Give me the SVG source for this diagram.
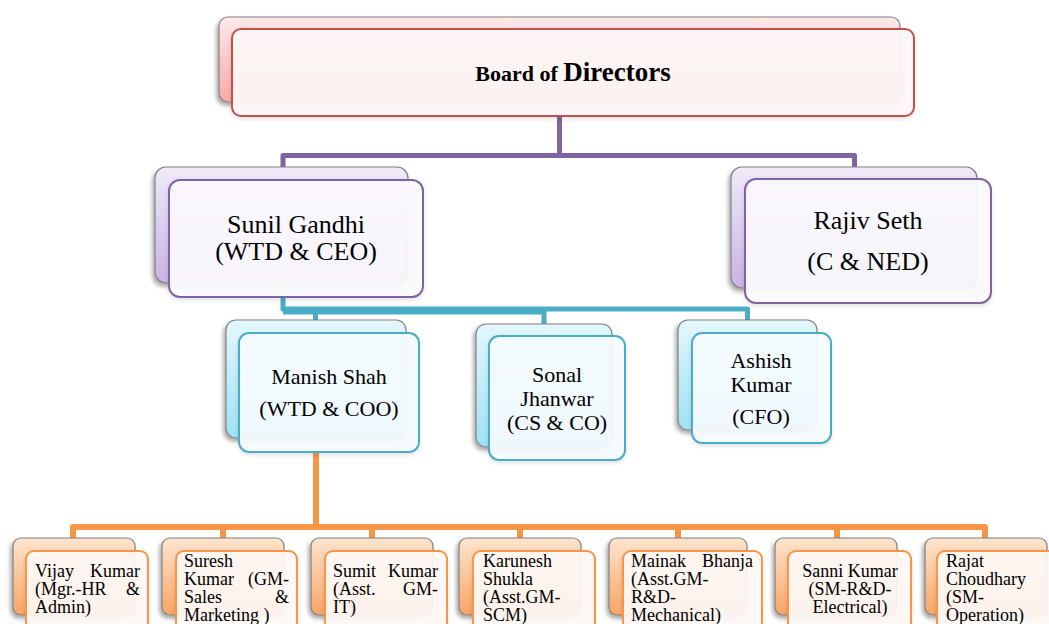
<svg xmlns="http://www.w3.org/2000/svg" width="1049" height="624" viewBox="0 0 1049 624">
<defs>
<linearGradient id="gRed" x1="0" y1="0" x2="0" y2="1"><stop offset="0" stop-color="#fde9e9"/><stop offset="1" stop-color="#f8a9a9"/></linearGradient>
<linearGradient id="gPur" x1="0" y1="0" x2="0" y2="1"><stop offset="0" stop-color="#f0eaf8"/><stop offset="1" stop-color="#c8b3e2"/></linearGradient>
<linearGradient id="gTeal" x1="0" y1="0" x2="0" y2="1"><stop offset="0" stop-color="#e4f7fd"/><stop offset="1" stop-color="#9ee2f5"/></linearGradient>
<linearGradient id="gOr" x1="0" y1="0" x2="0" y2="1"><stop offset="0" stop-color="#fde4cf"/><stop offset="1" stop-color="#f9a564"/></linearGradient>
<filter id="sh" x="-10%" y="-10%" width="120%" height="130%"><feDropShadow dx="-2" dy="3" stdDeviation="2" flood-color="#000" flood-opacity="0.35"/></filter>
<filter id="sh2" x="-10%" y="-10%" width="120%" height="130%"><feDropShadow dx="0" dy="2" stdDeviation="2" flood-color="#000" flood-opacity="0.12"/></filter>
</defs>
<style>
.back{stroke:#808080;stroke-width:1.2;filter:url(#sh)}
.front{stroke-width:2;filter:url(#sh2)}
.red .back{fill:url(#gRed)}
.red .front{fill:#fdf6f6;fill-opacity:0.95;stroke:#c0504d}
.pur .back{fill:url(#gPur)}
.pur .front{fill:#fbfafd;fill-opacity:0.93;stroke:#8064a2}
.teal .back{fill:url(#gTeal)}
.teal .front{fill:#f5fcfe;fill-opacity:0.93;stroke:#4bacc6}
.or .back{fill:url(#gOr)}
.or .front{fill:#fef9f5;fill-opacity:0.93;stroke:#f79646}
text{font-family:"Liberation Serif","Times New Roman",serif;fill:#000}
.t26{font-size:26px;text-anchor:middle}
.t22{font-size:22px;text-anchor:middle}
.t18{font-size:18px}
.c{text-anchor:middle}
.e{text-anchor:end}
.con{fill:none;stroke-linejoin:round;stroke-linecap:butt}
</style>
<g id="connectors">
<path class="con" d="M283,180 V155.5 H854.5 V180 M559.5,116 V155.5" stroke="#8064a2" stroke-width="5"/>
<path class="con" d="M283,297 V309 H747.5 V320 M315.5,309 V320 M544,309 V324" stroke="#4bacc6" stroke-width="5"/>
<path class="con" d="M283,312 H544" stroke="#4bacc6" stroke-width="5"/>
<path class="con" d="M316,452 V527 M73,540 V527 H985 V540 M223,527 V538 M372,527 V538 M520,527 V538 M678,527 V538 M837,527 V538" stroke="#f79646" stroke-width="6"/>
</g>
<g id="board" class="red">
<rect class="back" x="219" y="17" width="681" height="85" rx="9"/>
<rect class="front" x="232" y="29" width="682" height="87" rx="9"/>
<text x="573" y="81" class="c" font-weight="bold"><tspan font-size="22">Board of </tspan><tspan font-size="27">Directors</tspan></text>
</g>
<g id="sunil" class="pur">
<rect class="back" x="155" y="167" width="253" height="116" rx="11"/>
<rect class="front" x="169" y="180" width="254" height="117" rx="11"/>
<text class="t26" x="296" y="233">Sunil Gandhi</text>
<text class="t26" x="296" y="260">(WTD &amp; CEO)</text>
</g>
<g id="rajiv" class="pur">
<rect class="back" x="731" y="167" width="246" height="121" rx="11"/>
<rect class="front" x="745" y="179" width="246" height="124" rx="11"/>
<text class="t26" x="868" y="229">Rajiv Seth</text>
<text class="t26" x="868" y="270">(C &amp; NED)</text>
</g>
<g id="manish" class="teal">
<rect class="back" x="226" y="320" width="180" height="118" rx="10"/>
<rect class="front" x="239" y="333" width="180" height="119" rx="10"/>
<text class="t22" x="329" y="384">Manish Shah</text>
<text class="t22" x="329" y="416">(WTD &amp; COO)</text>
</g>
<g id="sonal" class="teal">
<rect class="back" x="476" y="324" width="136" height="123" rx="10"/>
<rect class="front" x="489" y="336" width="136" height="124" rx="10"/>
<text class="t22" x="557" y="382">Sonal</text>
<text class="t22" x="557" y="406">Jhanwar</text>
<text class="t22" x="557" y="430">(CS &amp; CO)</text>
</g>
<g id="ashish" class="teal">
<rect class="back" x="678" y="320" width="139" height="110" rx="10"/>
<rect class="front" x="692" y="333" width="139" height="110" rx="10"/>
<text class="t22" x="761" y="368">Ashish</text>
<text class="t22" x="761" y="392">Kumar</text>
<text class="t22" x="761" y="424">(CFO)</text>
</g>
<g id="vijay" class="or">
<rect class="back" x="13" y="538" width="122" height="77" rx="8"/>
<rect class="front" x="26" y="551" width="122" height="80" rx="8"/>
<text class="t18" x="35" y="577">Vijay</text><text class="t18 e" x="140" y="577">Kumar</text>
<text class="t18" x="35" y="595">(Mgr.-HR</text><text class="t18 e" x="140" y="595">&amp;</text>
<text class="t18" x="35" y="613">Admin)</text>
</g>
<g id="suresh" class="or">
<rect class="back" x="162" y="538" width="122" height="77" rx="8"/>
<rect class="front" x="176" y="551" width="121" height="80" rx="8"/>
<text class="t18" x="184" y="567">Suresh</text>
<text class="t18" x="184" y="585">Kumar</text><text class="t18 e" x="289" y="585">(GM-</text>
<text class="t18" x="184" y="603">Sales</text><text class="t18 e" x="289" y="603">&amp;</text>
<text class="t18" x="184" y="621">Marketing )</text>
</g>
<g id="sumit" class="or">
<rect class="back" x="311" y="538" width="122" height="77" rx="8"/>
<rect class="front" x="325" y="551" width="122" height="80" rx="8"/>
<text class="t18" x="333" y="577">Sumit</text><text class="t18 e" x="438" y="577">Kumar</text>
<text class="t18" x="333" y="595">(Asst.</text><text class="t18 e" x="438" y="595">GM-</text>
<text class="t18" x="333" y="613">IT)</text>
</g>
<g id="karunesh" class="or">
<rect class="back" x="459" y="538" width="122" height="77" rx="8"/>
<rect class="front" x="473" y="551" width="122" height="80" rx="8"/>
<text class="t18" x="483" y="567">Karunesh</text>
<text class="t18" x="483" y="585">Shukla</text>
<text class="t18" x="483" y="603">(Asst.GM-</text>
<text class="t18" x="483" y="621">SCM)</text>
</g>
<g id="mainak" class="or">
<rect class="back" x="609" y="538" width="138" height="77" rx="8"/>
<rect class="front" x="623" y="551" width="139" height="80" rx="8"/>
<text class="t18" x="631" y="567">Mainak</text><text class="t18 e" x="753" y="567">Bhanja</text>
<text class="t18" x="631" y="585">(Asst.GM-</text>
<text class="t18" x="631" y="603">R&amp;D-</text>
<text class="t18" x="631" y="621">Mechanical)</text>
</g>
<g id="sanni" class="or">
<rect class="back" x="775" y="538" width="122" height="77" rx="8"/>
<rect class="front" x="788" y="551" width="123" height="80" rx="8"/>
<text class="t18 c" x="850" y="577">Sanni Kumar</text>
<text class="t18 c" x="850" y="595">(SM-R&amp;D-</text>
<text class="t18 c" x="850" y="613">Electrical)</text>
</g>
<g id="rajat" class="or">
<rect class="back" x="925" y="538" width="122" height="77" rx="8"/>
<rect class="front" x="937" y="551" width="122" height="80" rx="8"/>
<text class="t18" x="946" y="567">Rajat</text>
<text class="t18" x="946" y="585">Choudhary</text>
<text class="t18" x="946" y="603">(SM-</text>
<text class="t18" x="946" y="621">Operation)</text>
</g>
</svg>
